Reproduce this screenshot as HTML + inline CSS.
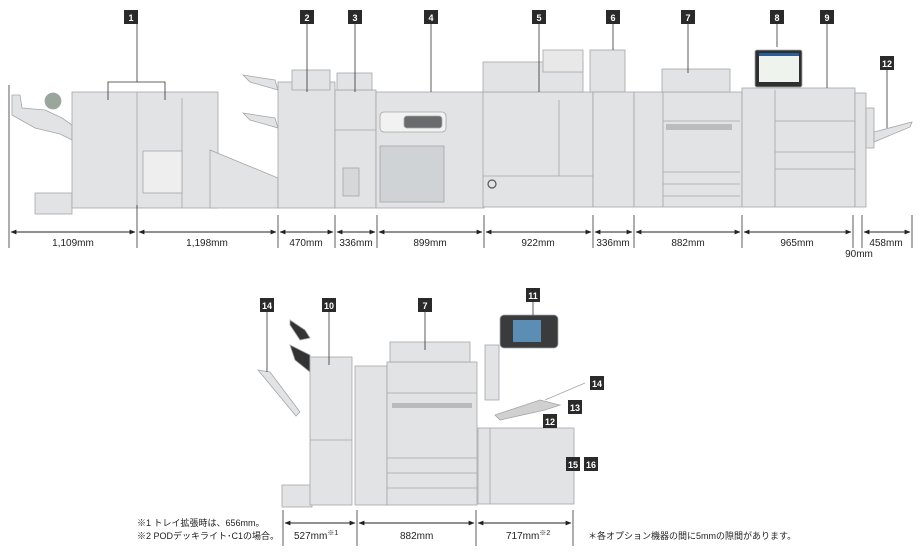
<!DOCTYPE html>
<html><head><meta charset="utf-8"><style>
html,body{margin:0;padding:0;background:#fff;width:920px;height:560px;overflow:hidden}
svg text{font-family:"Liberation Sans","Noto Sans CJK JP",sans-serif}
</style></head><body>
<svg width="920" height="560" viewBox="0 0 920 560" xmlns="http://www.w3.org/2000/svg">
<defs>
<marker id="a" viewBox="0 0 10 10" refX="9" refY="5" markerWidth="6" markerHeight="6" orient="auto-start-reverse"><path d="M0,1 L10,5 L0,9 z" fill="#222"/></marker>
</defs>
<g fill="#e2e3e4" stroke="#a5a6a7" stroke-width="0.8">
<!-- top row -->
<polygon points="12,95 20,95 22,108 45,110 62,118 72,125 72,140 60,134 35,128 12,115"/>
<circle cx="53" cy="101" r="8" fill="#9aa59c"/>
<rect x="35" y="193" width="37" height="21"/>
<rect x="72" y="92" width="146" height="116"/>
<line x1="137" y1="92" x2="137" y2="208"/><line x1="182" y1="98" x2="182" y2="208"/>
<rect x="143" y="151" width="39" height="42" fill="#eeeeee"/>
<polygon points="210,150 278,178 278,208 210,208"/>
<polygon points="243,75 275,80 278,90 250,82"/>
<polygon points="243,113 275,118 278,128 250,120"/>
<rect x="278" y="82" width="57" height="126"/>
<rect x="292" y="70" width="38" height="20"/>
<rect x="335" y="90" width="41" height="118"/>
<rect x="337" y="73" width="35" height="17"/>
<line x1="335" y1="130" x2="376" y2="130"/>
<rect x="343" y="168" width="16" height="28" fill="#d6d7d8"/>
<rect x="376" y="92" width="108" height="116"/>
<rect x="380" y="112" width="66" height="20" rx="4" fill="#f2f2f2"/>
<rect x="404" y="116" width="38" height="12" rx="3" fill="#6a6b6c"/>
<rect x="380" y="146" width="64" height="56" fill="#d0d3d6"/>
<rect x="483" y="92" width="110" height="115"/>
<rect x="483" y="62" width="100" height="30"/>
<rect x="543" y="50" width="40" height="22" fill="#e8e8e8"/>
<rect x="590" y="50" width="35" height="42"/>
<line x1="483" y1="176" x2="593" y2="176"/><line x1="559" y1="100" x2="559" y2="176"/>
<circle cx="492" cy="184" r="4" fill="none" stroke="#555" stroke-width="1.2"/>
<rect x="593" y="92" width="41" height="115"/>
<rect x="634" y="92" width="108" height="115"/>
<rect x="662" y="69" width="68" height="23"/>
<line x1="663" y1="121" x2="740" y2="121"/>
<rect x="666" y="124" width="66" height="6" fill="#bbbcbd" stroke="none"/>
<line x1="663" y1="172" x2="740" y2="172"/><line x1="663" y1="184" x2="740" y2="184"/><line x1="663" y1="196" x2="740" y2="196"/>
<line x1="663" y1="92" x2="663" y2="207"/>
<rect x="742" y="88" width="113" height="119"/>
<line x1="775" y1="90" x2="775" y2="207"/>
<line x1="775" y1="121" x2="855" y2="121"/><line x1="775" y1="152" x2="855" y2="152"/><line x1="775" y1="169" x2="855" y2="169"/>
<rect x="755" y="50" width="47" height="37" fill="#2e2f30" rx="2"/>
<rect x="759" y="53" width="40" height="29" fill="#eef3ee" stroke="none"/>
<rect x="759" y="53" width="40" height="3" fill="#2a5d9a" stroke="none"/>
<rect x="855" y="93" width="11" height="114"/>
<rect x="866" y="108" width="8" height="40"/>
<polygon points="874,132 912,122 910,127 874,142"/>
<!-- bottom row -->
<polygon points="258,370 270,372 300,412 296,416"/>
<polygon points="290,320 305,330 310,338 300,340 290,325" fill="#333"/>
<polygon points="290,345 310,355 310,372 295,360" fill="#333"/>
<rect x="282" y="485" width="30" height="22"/>
<rect x="310" y="357" width="42" height="148"/>
<line x1="310" y1="440" x2="352" y2="440"/>
<rect x="355" y="366" width="32" height="139"/>
<rect x="387" y="362" width="90" height="143"/>
<rect x="390" y="342" width="80" height="20"/>
<rect x="392" y="403" width="80" height="5" fill="#b9babb" stroke="none"/>
<line x1="387" y1="393" x2="477" y2="393"/>
<line x1="387" y1="458" x2="477" y2="458"/><line x1="387" y1="473" x2="477" y2="473"/><line x1="387" y1="488" x2="477" y2="488"/>
<rect x="485" y="345" width="14" height="55"/>
<rect x="500" y="315" width="58" height="33" rx="4" fill="#3a3b3c"/>
<rect x="513" y="320" width="28" height="22" fill="#5c8db5" stroke="none"/>
<rect x="478" y="428" width="96" height="76"/>
<line x1="490" y1="428" x2="490" y2="504"/>
<polygon points="495,415 540,400 560,405 545,410 500,420" fill="#d0d0d0"/>
<line x1="545" y1="400" x2="585" y2="383" />
</g>
<!-- top dimension -->
<g stroke="#333" stroke-width="0.8">
<line x1="9" y1="85" x2="9" y2="248"/>
<line x1="137" y1="205" x2="137" y2="248"/>
<line x1="278" y1="215" x2="278" y2="248"/>
<line x1="335" y1="215" x2="335" y2="248"/>
<line x1="377" y1="215" x2="377" y2="248"/>
<line x1="484" y1="215" x2="484" y2="248"/>
<line x1="593" y1="215" x2="593" y2="248"/>
<line x1="634" y1="215" x2="634" y2="248"/>
<line x1="742" y1="215" x2="742" y2="248"/>
<line x1="853" y1="215" x2="853" y2="248"/>
<line x1="862" y1="215" x2="862" y2="248"/>
<line x1="912" y1="215" x2="912" y2="248"/>
</g>
<g stroke="#222" stroke-width="1" marker-start="url(#a)" marker-end="url(#a)">
<line x1="11" y1="232" x2="135" y2="232"/>
<line x1="139" y1="232" x2="276" y2="232"/>
<line x1="280" y1="232" x2="333" y2="232"/>
<line x1="337" y1="232" x2="375" y2="232"/>
<line x1="379" y1="232" x2="482" y2="232"/>
<line x1="486" y1="232" x2="591" y2="232"/>
<line x1="595" y1="232" x2="632" y2="232"/>
<line x1="636" y1="232" x2="740" y2="232"/>
<line x1="744" y1="232" x2="851" y2="232"/>
<line x1="864" y1="232" x2="910" y2="232"/>
</g>
<g font-size="10" fill="#222" text-anchor="middle">
<text x="73" y="246">1,109mm</text><text x="207" y="246">1,198mm</text>
<text x="306" y="246">470mm</text><text x="356" y="246">336mm</text>
<text x="430" y="246">899mm</text><text x="538" y="246">922mm</text>
<text x="613" y="246">336mm</text><text x="688" y="246">882mm</text>
<text x="797" y="246">965mm</text><text x="886" y="246">458mm</text>
<text x="859" y="257">90mm</text>
</g>
<!-- bottom dimension -->
<g stroke="#333" stroke-width="0.8">
<line x1="283" y1="510" x2="283" y2="546"/><line x1="357" y1="510" x2="357" y2="546"/>
<line x1="476" y1="510" x2="476" y2="546"/><line x1="573" y1="510" x2="573" y2="546"/>
</g>
<g stroke="#222" stroke-width="1" marker-start="url(#a)" marker-end="url(#a)">
<line x1="285" y1="523" x2="355" y2="523"/><line x1="359" y1="523" x2="474" y2="523"/><line x1="478" y1="523" x2="571" y2="523"/>
</g>
<g font-size="10" fill="#222">
<text x="294" y="539">527mm<tspan font-size="7" dy="-4">※1</tspan></text>
<text x="400" y="539">882mm</text>
<text x="506" y="539">717mm<tspan font-size="7" dy="-4">※2</tspan></text>
<text x="588" y="539" font-size="9">＊各オプション機器の間に5mmの隙間があります。</text>
<text x="137" y="526" font-size="9">※1 トレイ拡張時は、656mm。</text>
<text x="137" y="539" font-size="9">※2 PODデッキライト･C1の場合。</text>
</g>
<!-- callout lines -->
<g stroke="#333" stroke-width="0.8" fill="none">
<polyline points="108,100 108,82 165,82 165,100"/><line x1="137" y1="24" x2="137" y2="82"/>
<line x1="307" y1="24" x2="307" y2="92"/><line x1="355" y1="24" x2="355" y2="92"/>
<line x1="431" y1="24" x2="431" y2="92"/><line x1="539" y1="24" x2="539" y2="92"/>
<line x1="613" y1="24" x2="613" y2="50"/><line x1="688" y1="24" x2="688" y2="73"/>
<line x1="777" y1="24" x2="777" y2="47"/><line x1="827" y1="24" x2="827" y2="88"/>
<line x1="887" y1="70" x2="887" y2="128"/>
<line x1="267" y1="312" x2="267" y2="372"/><line x1="329" y1="312" x2="329" y2="365"/>
<line x1="425" y1="312" x2="425" y2="350"/><line x1="533" y1="302" x2="533" y2="315"/>
</g>
<g font-size="9" font-weight="bold" fill="#fff" text-anchor="middle">
<rect x="124" y="10" width="14" height="14" fill="#2a2a2a"/><text x="131" y="21">1</text>
<rect x="300" y="10" width="14" height="14" fill="#2a2a2a"/><text x="307" y="21">2</text>
<rect x="348" y="10" width="14" height="14" fill="#2a2a2a"/><text x="355" y="21">3</text>
<rect x="424" y="10" width="14" height="14" fill="#2a2a2a"/><text x="431" y="21">4</text>
<rect x="532" y="10" width="14" height="14" fill="#2a2a2a"/><text x="539" y="21">5</text>
<rect x="606" y="10" width="14" height="14" fill="#2a2a2a"/><text x="613" y="21">6</text>
<rect x="681" y="10" width="14" height="14" fill="#2a2a2a"/><text x="688" y="21">7</text>
<rect x="770" y="10" width="14" height="14" fill="#2a2a2a"/><text x="777" y="21">8</text>
<rect x="820" y="10" width="14" height="14" fill="#2a2a2a"/><text x="827" y="21">9</text>
<rect x="880" y="56" width="14" height="14" fill="#2a2a2a"/><text x="887" y="67">12</text>
<rect x="260" y="298" width="14" height="14" fill="#2a2a2a"/><text x="267" y="309">14</text>
<rect x="322" y="298" width="14" height="14" fill="#2a2a2a"/><text x="329" y="309">10</text>
<rect x="418" y="298" width="14" height="14" fill="#2a2a2a"/><text x="425" y="309">7</text>
<rect x="526" y="288" width="14" height="14" fill="#2a2a2a"/><text x="533" y="299">11</text>
<rect x="590" y="376" width="14" height="14" fill="#2a2a2a"/><text x="597" y="387">14</text>
<rect x="568" y="400" width="14" height="14" fill="#2a2a2a"/><text x="575" y="411">13</text>
<rect x="543" y="414" width="14" height="14" fill="#2a2a2a"/><text x="550" y="425">12</text>
<rect x="566" y="457" width="14" height="14" fill="#2a2a2a"/><text x="573" y="468">15</text>
<rect x="584" y="457" width="14" height="14" fill="#2a2a2a"/><text x="591" y="468">16</text>
</g>
</svg>
</body></html>
